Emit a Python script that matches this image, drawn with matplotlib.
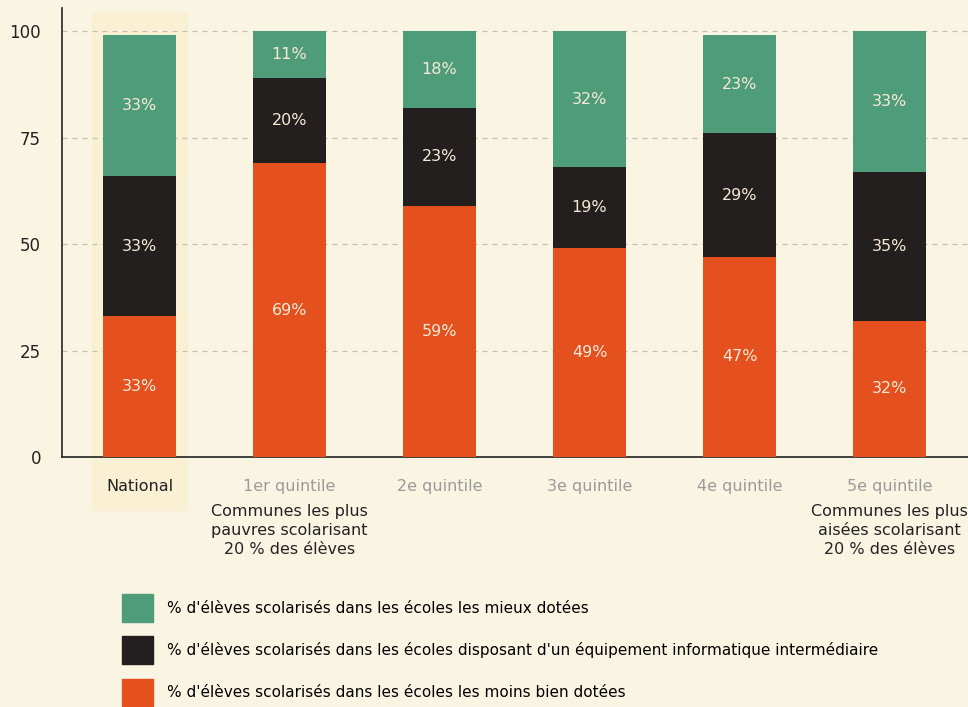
import numpy as np
import matplotlib.pyplot as plt
from matplotlib.patches import Patch

groupes = ['National', '1er quintile', '2e quintile', '3e quintile', '4e quintile', '5e quintile']
sous_titres = ['', 'Communes les plus\npauvres scolarisant\n20 % des élèves', '', '', '',
               'Communes les plus\naisées scolarisant\n20 % des élèves']
moins_dotees = [33, 69, 59, 49, 47, 32]
intermediaire = [33, 20, 23, 19, 29, 35]
mieux_dotees = [33, 11, 18, 32, 23, 33]

legendes = ["% d'élèves scolarisés dans les écoles les mieux dotées",
            "% d'élèves scolarisés dans les écoles disposant d'un équipement informatique intermédiaire",
            "% d'élèves scolarisés dans les écoles les moins bien dotées"]

fond = '#faf4e3'
vert = '#4f9c7b'
noir = '#231f1f'
orange = '#e4501e'
texte_barre = '#f6ead6'

plt.rcParams['font.family'] = ['DejaVu Sans']

fig = plt.figure(figsize=(9.68, 7.07), dpi=100, facecolor=fond)
ax = fig.add_axes([0.064, 0.3536, 0.936, 0.635])
ax.set_facecolor(fond)

x = np.arange(len(groupes))
w = 0.49

# bande claire derrière la barre nationale
ax.axvspan(-0.32, 0.32, ymin=-0.12, ymax=0.99, color='#fcebb8', alpha=0.35,
           zorder=0, clip_on=False, lw=0)

bas = np.zeros(len(groupes))
for vals, col in [(moins_dotees, orange), (intermediaire, noir), (mieux_dotees, vert)]:
    vals = np.array(vals)
    ax.bar(x, vals, width=w, bottom=bas, color=col, zorder=3)
    for xi, b, v in zip(x, bas, vals):
        ax.text(xi, b + v / 2, f'{v}%', ha='center', va='center', color=texte_barre,
                fontsize=11.5, zorder=4)
    bas += vals

ax.set_xlim(-0.517, 5.523)
ax.set_ylim(0, 105.4)
ax.set_yticks([0, 25, 50, 75, 100])
ax.tick_params(axis='y', length=0, labelsize=12, pad=15, colors='#222222')
ax.yaxis.grid(True, linestyle=(0, (4, 4)), color='#c4bfb4', lw=0.9, zorder=1)
ax.set_axisbelow(True)

ax.set_xticks(x)
ax.set_xticklabels(groupes, fontsize=11.5)
ax.tick_params(axis='x', length=0, pad=16)
for i, lab in enumerate(ax.get_xticklabels()):
    lab.set_color('#222222' if i == 0 else '#9a9a9a')
for xi, st in zip(x, sous_titres):
    if st:
        ax.text(xi, -11.0, st, ha='center', va='top', fontsize=11.5, color='#222222',
                linespacing=1.35)

for s in ['top', 'right']:
    ax.spines[s].set_visible(False)
ax.spines['left'].set_color('#222222')
ax.spines['bottom'].set_color('#222222')
ax.spines['left'].set_linewidth(1.2)
ax.spines['bottom'].set_linewidth(1.2)

handles = [Patch(color=vert), Patch(color=noir), Patch(color=orange)]
fig.legend(handles, legendes, loc='upper left', bbox_to_anchor=(0.12, 0.168),
           frameon=False, fontsize=11, handlelength=2.0, handleheight=2.4,
           labelspacing=0.95, handletextpad=0.9, borderaxespad=0)

fig.savefig('out.png', dpi=100, facecolor=fond)
